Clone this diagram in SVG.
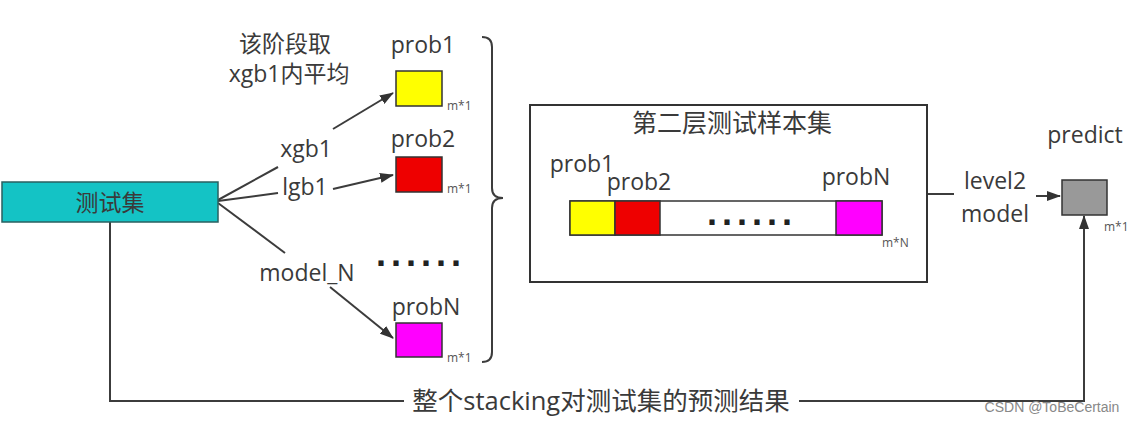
<svg xmlns="http://www.w3.org/2000/svg" width="1143" height="422" viewBox="0 0 1143 422">
<defs>
<marker id="ah" markerWidth="14" markerHeight="10" refX="13" refY="5" orient="auto" markerUnits="userSpaceOnUse">
<path d="M0,0 L14,5 L0,10 Z" fill="#333"/>
</marker>
<style>
.t{font-family:"Open Sans","Noto Sans CJK SC",sans-serif;fill:#3a3a3a;font-size:23px}
.s{font-family:"Open Sans","Noto Sans CJK SC",sans-serif;fill:#555;font-size:12px}
.d{font-family:"Liberation Sans",sans-serif;fill:#222;font-size:36px;font-weight:bold;letter-spacing:5px}
.ln{stroke:#3c3c3c;stroke-width:2;fill:none}
.bx{stroke:#333;stroke-width:1.5}
</style>
</defs>
<rect width="1143" height="422" fill="#fff"/>

<g id="connectors">
<path class="ln" d="M218,200 L278,167"/>
<path class="ln" d="M333,129 L393,93" marker-end="url(#ah)"/>
<path class="ln" d="M218,201 L278,193"/>
<path class="ln" d="M333,189 L393,175" marker-end="url(#ah)"/>
<path class="ln" d="M218,203 L285,253"/>
<path class="ln" d="M330,287 L393,338" marker-end="url(#ah)"/>
<path class="ln" d="M928,194 L954,194"/>
<path class="ln" d="M1036,196 L1060,196" marker-end="url(#ah)"/>
<path class="ln" d="M110,222 L110,401 L404,401"/>
<path class="ln" d="M799,401 L1084,401 L1084,216" marker-end="url(#ah)"/>
<path class="ln" d="M482,37 Q492,37 492,47 L492,188 Q492,198 503,198 Q492,198 492,208 L492,352 Q492,362 482,362"/>
</g>

<g id="test-set">
<rect x="2" y="182" width="216" height="40" fill="#14C3C5" stroke="#2a6060" stroke-width="1.5"/>
<text class="t" x="110" y="211" text-anchor="middle">测试集</text>
</g>

<g id="note">
<text class="t" x="285" y="52" text-anchor="middle">该阶段取</text>
<text class="t" x="289" y="82" text-anchor="middle">xgb1内平均</text>
</g>

<g id="labels">
<text class="t" x="306" y="157" text-anchor="middle">xgb1</text>
<text class="t" x="305" y="195" text-anchor="middle">lgb1</text>
<text class="t" x="307" y="281" text-anchor="middle">model_N</text>
</g>

<g id="prob1">
<text class="t" x="423" y="53" text-anchor="middle">prob1</text>
<rect class="bx" x="396" y="71" width="46" height="35" fill="#FFFF00"/>
<text class="s" x="447" y="110">m*1</text>
</g>
<g id="prob2">
<text class="t" x="423" y="147" text-anchor="middle">prob2</text>
<rect class="bx" x="396" y="157" width="46" height="35" fill="#EE0000"/>
<text class="s" x="447" y="193">m*1</text>
</g>
<g id="dots1">
<text class="d" x="421" y="266" text-anchor="middle">......</text>
</g>
<g id="probN">
<text class="t" x="426" y="315" text-anchor="middle">probN</text>
<rect class="bx" x="396" y="323" width="46" height="34" fill="#FF00FF"/>
<text class="s" x="447" y="362">m*1</text>
</g>

<g id="level2-set">
<rect x="530" y="105" width="397" height="177" fill="#fff" stroke="#333" stroke-width="2"/>
<text class="t" x="732" y="132" text-anchor="middle" style="font-size:25px">第二层测试样本集</text>
<text class="t" x="582" y="172" text-anchor="middle">prob1</text>
<text class="t" x="639" y="190" text-anchor="middle">prob2</text>
<text class="t" x="856" y="185" text-anchor="middle">probN</text>
<rect class="bx" x="570" y="201" width="312" height="34" fill="#fff"/>
<rect class="bx" x="570" y="201" width="45" height="34" fill="#FFFF00"/>
<rect class="bx" x="615" y="201" width="45" height="34" fill="#EE0000"/>
<rect class="bx" x="836" y="201" width="46" height="34" fill="#FF00FF"/>
<text class="d" x="752" y="225" text-anchor="middle">......</text>
<text class="s" x="882" y="247">m*N</text>
</g>

<g id="level2-model">
<text class="t" x="995" y="189" text-anchor="middle">level2</text>
<text class="t" x="995" y="222" text-anchor="middle">model</text>
</g>

<g id="predict">
<text class="t" x="1085" y="143" text-anchor="middle">predict</text>
<rect x="1062" y="180" width="45" height="35" fill="#999" stroke="#333" stroke-width="1.5"/>
<text class="s" x="1104" y="231">m*1</text>
</g>

<g id="bottom-label">
<text class="t" x="601" y="410" text-anchor="middle" style="font-size:25.5px">整个stacking对测试集的预测结果</text>
</g>

<text x="1052" y="412" text-anchor="middle" style="font-family:'Liberation Sans',sans-serif;font-size:14px;fill:#888">CSDN @ToBeCertain</text>
</svg>
